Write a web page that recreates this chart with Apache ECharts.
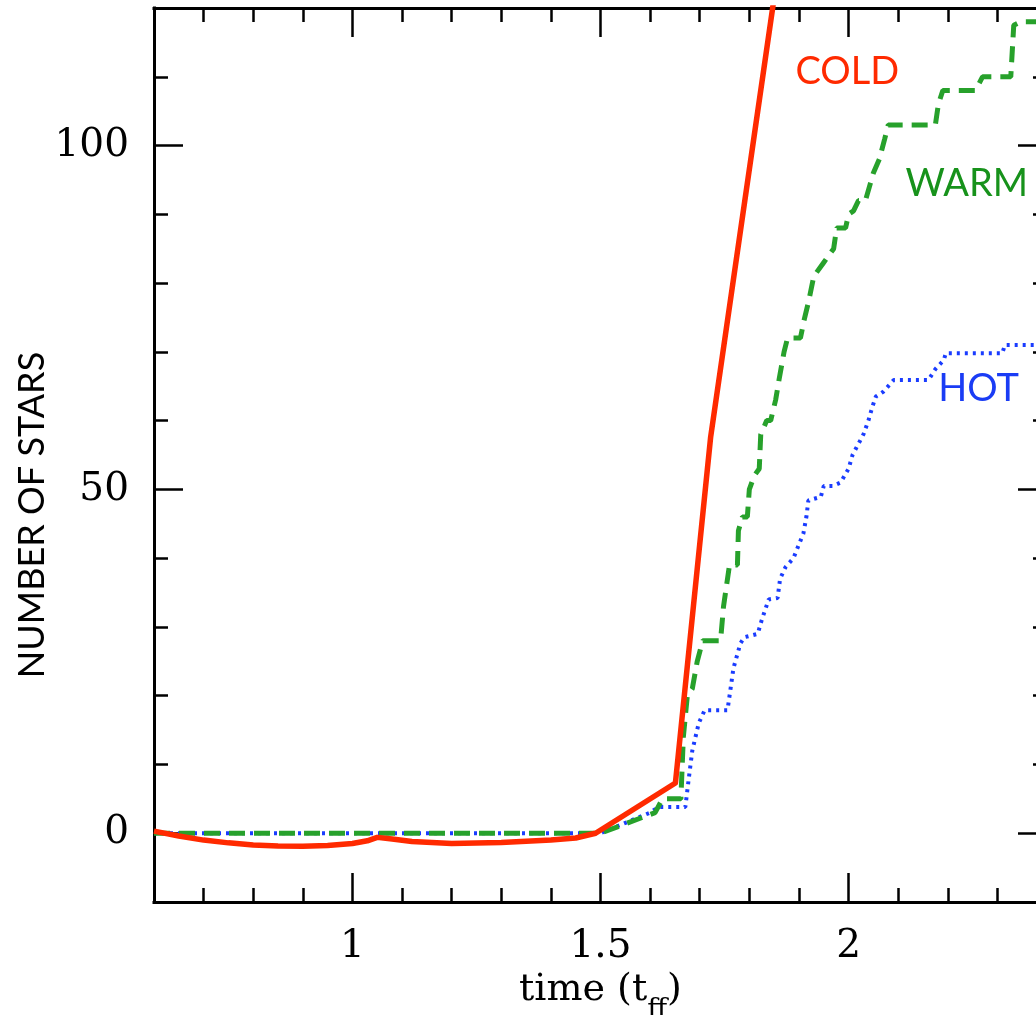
<!DOCTYPE html>
<html>
<head>
<meta charset="utf-8">
<script src="https://cdn.jsdelivr.net/npm/echarts@6/dist/echarts.min.js"></script>
<style>
  html, body { margin: 0; padding: 0; overflow: hidden; background: #fff; }
  #chart { width: 1070px; height: 1015px; }
</style>
</head>
<body>
<div id="chart"></div>
<script>
// number of stars vs time (t_ff)
const coldRun = [
  [0.6, 0.3], [0.65, -0.4], [0.7, -1.0], [0.75, -1.4], [0.8, -1.7], [0.85, -1.85],
  [0.9, -1.9], [0.95, -1.8], [1.0, -1.5], [1.03, -1.1], [1.05, -0.6], [1.08, -0.85],
  [1.12, -1.2], [1.2, -1.5], [1.3, -1.35], [1.4, -1.0], [1.45, -0.7], [1.49, 0],
  [1.651, 7.3], [1.722, 57.6], [1.847, 120], [1.867, 130]
];

const warmRun = [
  [0.6, 0], [1.5, 0], [1.61, 3], [1.625, 5], [1.662, 5], [1.667, 14], [1.675, 20],
  [1.685, 21], [1.695, 25], [1.706, 28], [1.742, 28], [1.748, 33], [1.756, 37],
  [1.76, 39], [1.776, 39], [1.778, 44], [1.786, 46], [1.796, 46], [1.8, 50],
  [1.81, 52], [1.82, 53], [1.823, 58], [1.835, 60], [1.843, 60], [1.853, 63],
  [1.86, 66], [1.87, 70], [1.877, 72], [1.903, 72], [1.91, 74.5], [1.92, 77.5],
  [1.93, 81], [1.95, 83], [1.97, 85], [1.976, 88], [1.994, 88], [2.0, 90],
  [2.01, 90.5], [2.02, 92], [2.034, 92], [2.044, 94.5], [2.05, 96], [2.062, 98],
  [2.073, 101], [2.08, 103], [2.175, 103], [2.181, 106], [2.19, 108], [2.256, 108],
  [2.27, 110], [2.327, 110], [2.333, 117.5], [2.347, 118], [2.4, 118]
];

const hotRun = [
  [0.6, 0], [1.5, 0], [1.6, 3], [1.617, 3.8], [1.671, 3.8], [1.678, 8], [1.685, 12],
  [1.698, 16], [1.71, 17.9], [1.756, 17.9], [1.768, 24], [1.782, 27.6], [1.79, 28.5],
  [1.817, 29], [1.825, 31], [1.839, 34], [1.857, 34.2], [1.862, 37], [1.873, 38.7],
  [1.889, 40], [1.9, 42], [1.909, 43.6], [1.915, 46], [1.919, 48.4], [1.944, 48.9],
  [1.95, 50.5], [1.968, 50.5], [1.984, 51], [2.0, 53], [2.008, 55], [2.03, 58],
  [2.04, 60], [2.048, 62], [2.055, 63.5], [2.07, 64.2], [2.091, 65.9], [2.161, 65.9],
  [2.175, 67.5], [2.192, 68.8], [2.196, 69.8], [2.31, 69.8], [2.315, 71], [2.4, 71]
];

const SERIF = '"DejaVu Serif", "Liberation Serif", serif';
const SANS = 'Lato, "Open Sans", sans-serif';

function frameAxis(position, min, max, step, withLabels) {
  return {
    type: "value",
    position: position,
    min: min,
    max: max,
    minInterval: step,
    maxInterval: step,
    splitNumber: Math.round((max - min) / step),
    axisLine: { show: true, onZero: false, lineStyle: { color: "#000", width: 3, cap: "square" } },
    axisTick: { show: true, inside: true, length: 29, lineStyle: { color: "#000", width: 2.5 } },
    minorTick: { show: true, splitNumber: 5, length: 14, lineStyle: { color: "#000", width: 2.5 } },
    splitLine: { show: false },
    minorSplitLine: { show: false },
    axisLabel: {
      show: withLabels,
      showMinLabel: false,
      showMaxLabel: false,
      color: "#000",
      fontFamily: SERIF,
      fontSize: 39,
      margin: 25
    }
  };
}

function tag(text, color, coord) {
  return {
    symbol: "circle",
    symbolSize: 0,
    silent: true,
    label: {
      show: true,
      position: "right",
      distance: 0,
      formatter: text,
      color: color,
      fontFamily: SANS,
      fontSize: 38
    },
    data: [{ coord: coord }]
  };
}

const chart = echarts.init(document.getElementById("chart"));

const xBottom = frameAxis("bottom", 0.6, 2.4, 0.5, true);
xBottom.name = "{a|time (t}{b|ff}{a|)}";
xBottom.nameLocation = "middle";
xBottom.nameGap = 58;
xBottom.nameTextStyle = {
  rich: {
    a: { fontFamily: SERIF, fontSize: 38, color: "#000", lineHeight: 42, verticalAlign: "top" },
    b: { fontFamily: SERIF, fontSize: 28, color: "#000", verticalAlign: "bottom", padding: [26, 0, 0, 0] }
  }
};

chart.setOption({
  animation: false,
  backgroundColor: "#fff",
  grid: { left: 154, top: 8, width: 893, height: 894, containLabel: false, outerBoundsMode: "none" },
  xAxis: [xBottom, frameAxis("top", 0.6, 2.4, 0.5, false)],
  yAxis: [frameAxis("left", -10, 120, 50, true), frameAxis("right", -10, 120, 50, false)],
  graphic: [
    {
      type: "text",
      x: 32,
      y: 515,
      rotation: Math.PI / 2,
      style: {
        text: "NUMBER OF STARS",
        fontFamily: SANS,
        fontSize: 36,
        fill: "#000",
        align: "center",
        verticalAlign: "middle",
        textAlign: "center",
        textVerticalAlign: "middle"
      }
    }
  ],
  series: [
    {
      name: "HOT",
      type: "line",
      data: hotRun,
      showSymbol: false,
      symbol: "none",
      lineStyle: { color: "#1a3cff", width: 4, type: [3, 5] },
      markPoint: tag("HOT", "#1a3cf5", [2.181, 64.7])
    },
    {
      name: "WARM",
      type: "line",
      data: warmRun,
      showSymbol: false,
      symbol: "none",
      lineStyle: { color: "#27a12b", width: 5, type: [16, 9] },
      markPoint: tag("WARM", "#17921b", [2.115, 94.5])
    },
    {
      name: "COLD",
      type: "line",
      data: coldRun,
      showSymbol: false,
      symbol: "none",
      lineStyle: { color: "#ff2a00", width: 5.5, join: "round" },
      markPoint: tag("COLD", "#ff2a00", [1.893, 110.8])
    }
  ]
});
</script>
</body>
</html>
